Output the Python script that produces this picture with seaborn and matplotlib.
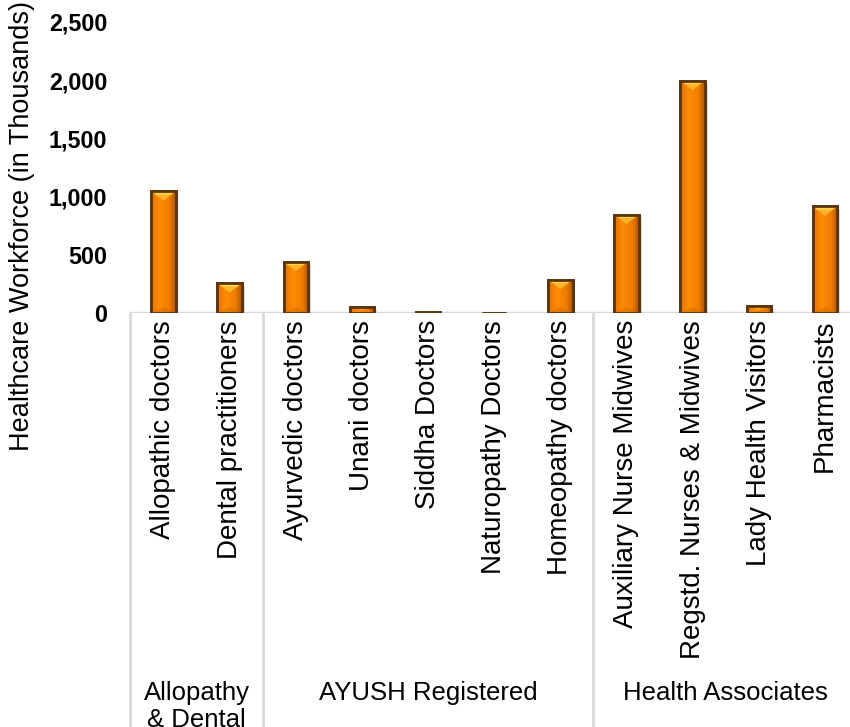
import numpy as np
import pandas as pd
import matplotlib
matplotlib.use("Agg")
import matplotlib.pyplot as plt
import seaborn as sns
from matplotlib.colors import LinearSegmentedColormap
from matplotlib.patches import Polygon
from matplotlib.ticker import FuncFormatter
import matplotlib.patheffects as pe

categories = ["Allopathic doctors", "Dental practitioners", "Ayurvedic doctors",
              "Unani doctors", "Siddha Doctors", "Naturopathy Doctors",
              "Homeopathy doctors", "Auxiliary Nurse Midwives",
              "Regstd. Nurses & Midwives", "Lady Health Visitors", "Pharmacists"]
values = [1045, 255, 440, 52, 10, 3, 285, 845, 1995, 60, 915]
groups = ["Allopathy\n& Dental", "AYUSH Registered", "Health Associates"]
group_sizes = [2, 5, 4]
yticks = [0, 500, 1000, 1500, 2000, 2500]

sns.set_theme(style="white")
plt.rcParams["font.family"] = ["Liberation Sans", "DejaVu Sans"]

W, H = 850, 727
fig = plt.figure(figsize=(W / 100, H / 100), dpi=100)
left_px, right_px, top_px, base_px = 130.4, 858.0, 22.0, 313.0
ax = fig.add_axes([left_px / W, 1 - base_px / H, (right_px - left_px) / W,
                   (base_px - top_px) / H])

df = pd.DataFrame({"cat": categories, "val": values})
sns.barplot(data=df, x="cat", y="val", ax=ax, color="#F28200", width=0.37,
            edgecolor="#5A3510", linewidth=2.0, saturation=1)

ax.set_xlim(-0.5, len(categories) - 0.5)
ax.set_ylim(0, 2500)
ax.set_yticks(yticks)
ax.yaxis.set_major_formatter(FuncFormatter(lambda v, p: f"{v:,.0f}"))
for lab in ax.get_yticklabels():
    lab.set_fontweight("bold")
    lab.set_fontsize(16.8)
    lab.set_color("black")
ax.tick_params(axis="y", length=0, pad=16.5)
ax.tick_params(axis="x", length=0, pad=5)
ax.set_xticks(range(len(categories)))
ax.set_xticklabels(categories, rotation=90, fontsize=20, color="black")
ax.set_xlabel("")
ax.set_ylabel("Healthcare Workforce (in Thousands)", fontsize=19.5, color="black")
axes_h = base_px - top_px
axes_w = right_px - left_px
ax.yaxis.set_label_coords((35 - left_px) / axes_w, (base_px - 226) / axes_h)
for s in ["top", "right", "left", "bottom"]:
    ax.spines[s].set_visible(False)
ax.axhline(0, color="#d9d9d9", lw=2.5, zorder=1)

# gradient fill + bevels on bars
cmap = LinearSegmentedColormap.from_list(
    "org", [(0, "#E27200"), (0.35, "#FF8C05"), (0.75, "#EE7C00"), (1, "#B05400")])
grad = np.linspace(0, 1, 64).reshape(1, -1)
for p in ax.patches:
    x0, y0 = p.get_x(), p.get_y()
    w, h = p.get_width(), p.get_height()
    p.set_zorder(3)
    p.set_path_effects([pe.SimplePatchShadow(offset=(2, -2), alpha=0.25,
                                             shadow_rgbFace="#777777"),
                        pe.Normal()])
    im = ax.imshow(grad, cmap=cmap, aspect="auto",
                   extent=(x0, x0 + w, y0, y0 + h), zorder=3.5,
                   interpolation="bicubic")
    im.set_clip_path(p)
    b = min(h * 0.45, 80)
    tri = Polygon([(x0, y0 + h), (x0 + w, y0 + h), (x0 + w * 0.5, y0 + h - b)],
                  closed=True, facecolor="#FFB42A", edgecolor="none", zorder=3.6)
    ax.add_patch(tri)
    tri2 = Polygon([(x0, y0 + h), (x0 + w, y0 + h), (x0 + w * 0.8, y0 + h - b * 0.35),
                    (x0 + w * 0.2, y0 + h - b * 0.35)],
                   closed=True, facecolor="#FFD24A", edgecolor="none", zorder=3.7)
    ax.add_patch(tri2)
    bb = min(h * 0.3, 50)
    tri3 = Polygon([(x0, y0), (x0 + w, y0), (x0 + w * 0.5, y0 + bb)],
                   closed=True, facecolor="#A85000", alpha=0.25, edgecolor="none",
                   zorder=3.6)
    ax.add_patch(tri3)
    border = plt.Rectangle((x0, y0), w, h, fill=False, edgecolor="#5A3510",
                           linewidth=2.0, zorder=3.8)
    ax.add_patch(border)
ax.set_ylim(0, 2500)
ax.set_xlim(-0.5, len(categories) - 0.5)

# group separators and labels
y_bottom = -(H - base_px) / axes_h
trans = ax.get_xaxis_transform()
bounds = np.cumsum([0] + group_sizes) - 0.5
for b in bounds:
    ax.plot([b, b], [0, y_bottom], transform=trans, color="#d9d9d9", lw=2,
            clip_on=False, zorder=1)
y_lab = -(681 - base_px) / axes_h
for i, g in enumerate(groups):
    cx = (bounds[i] + bounds[i + 1]) / 2
    ax.text(cx, y_lab, g, transform=trans, ha="center", va="top",
            fontsize=18.5, color="black", linespacing=1.15)

fig.savefig("out.png", dpi=100)
